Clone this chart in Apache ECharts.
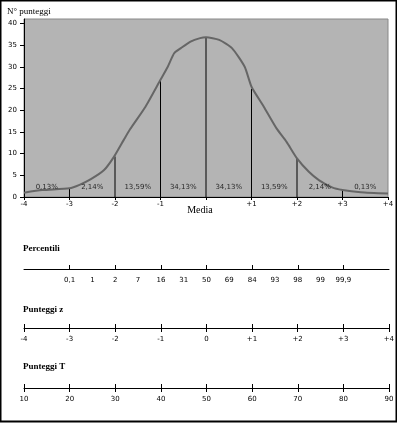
<!DOCTYPE html>
<html>
<head>
<meta charset="utf-8">
<script src="https://cdn.jsdelivr.net/npm/echarts@6/dist/echarts.min.js"></script>
<style>
  html, body { margin: 0; padding: 0; background: #fff; }
  #chart { width: 397px; height: 423px; }
</style>
</head>
<body>
<div id="chart"></div>
<script>
// dati della curva (punti z, numero punteggi)
var curveZ = [-4, -3.6, -3, -2.78, -2.53, -2.24, -2.02, -1.81, -1.67, -1.33, -1, -0.84, -0.7, -0.55, -0.34, -0.13, 0,
              0.29, 0.57, 0.85, 1.0, 1.27, 1.55, 1.77, 2, 2.26, 2.48, 2.77, 3, 3.4, 4];
var curveN = [1.0, 1.6, 2.0, 2.8, 4.1, 6.2, 9.3, 13.1, 15.6, 20.8, 27, 30, 33.1, 34.3, 35.8, 36.6, 36.8,
              36.2, 34.3, 30, 25.4, 20.8, 15.8, 12.7, 8.9, 5.8, 3.9, 2.2, 1.6, 1.1, 0.8];
// linee verticali alle deviazioni standard
var sdZ = [-3, -2, -1, 0, 1, 2, 3];
var sdTop = [1.9, 9.3, 26.8, 36.7, 24.9, 8.9, 1.6];
// percentuali nelle fasce
var bandZ = [-3.5, -2.5, -1.5, -0.5, 0.5, 1.5, 2.5, 3.5];
var bandLabels = ['0,13%', '2,14%', '13,59%', '34,13%', '34,13%', '13,59%', '2,14%', '0,13%'];
// etichette assi
var zTicks = [-4, -3, -2, -1, 0, 1, 2, 3, 4];
var mainLabels = ['-4', '-3', '-2', '-1', 'Media', '+1', '+2', '+3', '+4'];
var yTicks = [0, 5, 10, 15, 20, 25, 30, 35, 40];
var percZ = [-3, -2.5, -2, -1.5, -1, -0.5, 0, 0.5, 1, 1.5, 2, 2.5, 3];
var percLabels = ['0,1', '1', '2', '7', '16', '31', '50', '69', '84', '93', '98', '99', '99,9'];
var zLabels = ['-4', '-3', '-2', '-1', '0', '+1', '+2', '+3', '+4'];
var tLabels = ['10', '20', '30', '40', '50', '60', '70', '80', '90'];

var sansFont = 'DejaVu Sans';
var serif = 'Liberation Serif';

function lookup(keys, vals) {
    return function (v) {
        for (var i = 0; i < keys.length; i++) {
            if (Math.abs(keys[i] - v) < 1e-6) return vals[i];
        }
        return '';
    };
}

var myChart = echarts.init(document.getElementById('chart'), null, { renderer: 'canvas' });

function lineAxis(gridIndex, labels, tickVals, labelVals, inside, showLine) {
    return {
        type: 'value', gridIndex: gridIndex, min: -4, max: 4, position: 'bottom',
        axisLine: { show: showLine, onZero: false, lineStyle: { color: '#000', width: 1 } },
        axisTick: { show: true, inside: inside, length: 4, customValues: tickVals, lineStyle: { color: '#000' } },
        axisLabel: { show: !!labels, margin: 8, customValues: labelVals || tickVals,
            formatter: labels ? lookup(labelVals || tickVals, labels) : '', fontFamily: sansFont, fontSize: 7, color: '#000' },
        splitLine: { show: false }
    };
}

var curveData = curveZ.map(function (z, i) { return [z, curveN[i]]; });
var sdData = sdZ.map(function (z, i) { return [z, sdTop[i]]; });
var bandData = bandZ.map(function (z, i) { return [z, 2.3, bandLabels[i]]; });

var option = {
    animation: false,
    backgroundColor: '#fff',
    grid: [
        { left: 24, top: 19, width: 364, height: 178, show: true, backgroundColor: '#b4b4b4', borderColor: '#888', borderWidth: 1 },
        { left: 24, top: 259, width: 365, height: 10 },
        { left: 24, top: 318, width: 365, height: 10 },
        { left: 24, top: 378, width: 365, height: 10 }
    ],
    xAxis: [
        {
            type: 'value', gridIndex: 0, min: -4, max: 4, interval: 1,
            axisLine: { show: true, onZero: false, lineStyle: { color: '#000' } },
            axisTick: { show: true, length: 3, lineStyle: { color: '#000' } },
            axisLabel: {
                margin: 4, fontFamily: sansFont, fontSize: 7, color: '#000',
                formatter: function (v) {
                    var s = lookup(zTicks, mainLabels)(v);
                    return s === 'Media' ? '{m|Media}' : s;
                },
                rich: { m: { fontFamily: serif, fontSize: 10, color: '#000', padding: [4, 12, 0, 0] } }
            },
            splitLine: { show: false }
        },
        // Percentili: tacche solo verso l'alto
        lineAxis(1, percLabels, [-3, -2, -1, 0, 1, 2, 3], percZ, true, true),
        // Punteggi z
        lineAxis(2, null, zTicks, null, true, true),
        lineAxis(2, zLabels, zTicks, null, false, false),
        // Punteggi T
        lineAxis(3, null, zTicks, null, true, true),
        lineAxis(3, tLabels, zTicks, null, false, false)
    ],
    yAxis: [
        {
            type: 'value', gridIndex: 0, min: 0, max: 41,
            axisLine: { show: true, onZero: false, lineStyle: { color: '#000' } },
            axisTick: { show: true, length: 4, customValues: yTicks, lineStyle: { color: '#000' } },
            axisLabel: { margin: 7, customValues: yTicks, fontFamily: sansFont, fontSize: 7, color: '#000' },
            splitLine: { show: false }
        },
        { type: 'value', gridIndex: 1, show: false },
        { type: 'value', gridIndex: 2, show: false },
        { type: 'value', gridIndex: 3, show: false }
    ],
    series: [
        {
            type: 'bar', xAxisIndex: 0, yAxisIndex: 0, barWidth: 1,
            itemStyle: { color: '#000' }, data: sdData, z: 2
        },
        {
            type: 'line', xAxisIndex: 0, yAxisIndex: 0, data: curveData, smooth: 0.2,
            symbol: 'none', lineStyle: { color: '#666', width: 2 }, z: 3
        },
        {
            type: 'scatter', xAxisIndex: 0, yAxisIndex: 0, data: bandData, symbolSize: 0,
            label: {
                show: true, position: 'inside', fontFamily: sansFont, fontSize: 7, color: '#000',
                formatter: function (p) { return p.data[2]; }
            }, z: 4
        }
    ],
    graphic: [
        { type: 'rect', shape: { x: 0.5, y: 0.5, width: 396, height: 421 }, style: { fill: null, stroke: '#000', lineWidth: 2 }, silent: true },
        { type: 'text', left: 7, top: 7, style: { text: 'N° punteggi', fontFamily: serif, fontSize: 9, fill: '#000' } },
        { type: 'text', left: 23, top: 244, style: { text: 'Percentili', fontFamily: serif, fontSize: 9, fontWeight: 'bold', fill: '#000' } },
        { type: 'text', left: 23, top: 305, style: { text: 'Punteggi z', fontFamily: serif, fontSize: 9, fontWeight: 'bold', fill: '#000' } },
        { type: 'text', left: 23, top: 362, style: { text: 'Punteggi T', fontFamily: serif, fontSize: 9, fontWeight: 'bold', fill: '#000' } }
    ]
};

myChart.setOption(option);
</script>
</body>
</html>
